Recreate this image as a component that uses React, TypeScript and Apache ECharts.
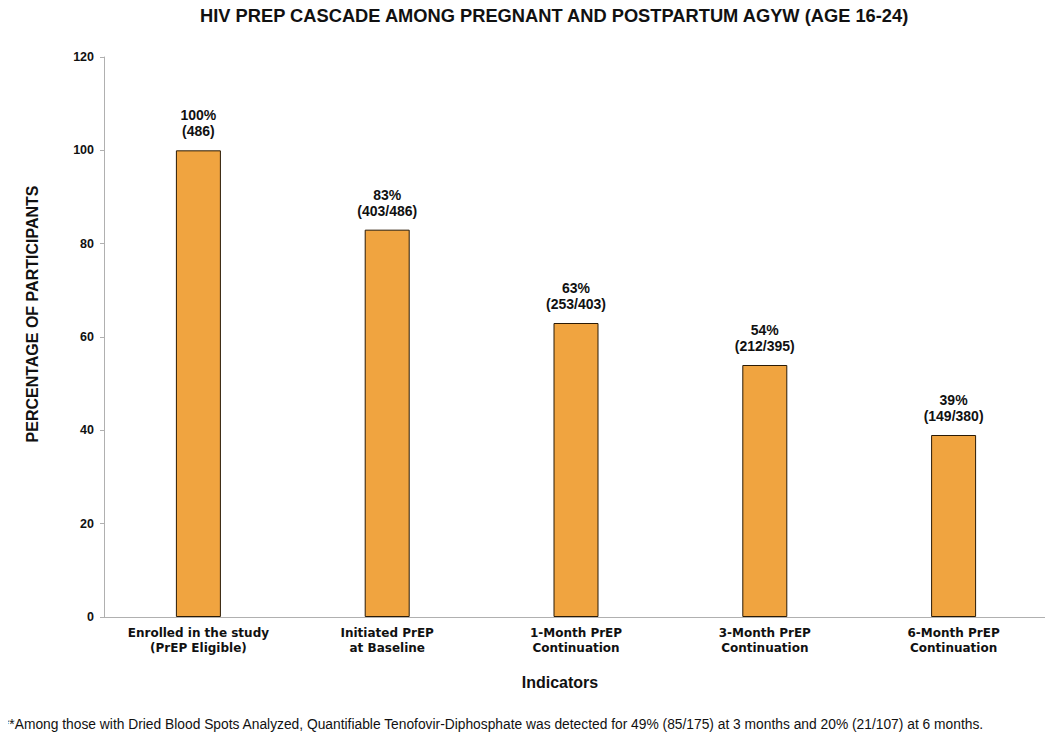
import React, { useEffect, useRef } from "react";
import * as echarts from "echarts";

const categories = [
  "Enrolled in the study\n(PrEP Eligible)",
  "Initiated PrEP\nat Baseline",
  "1-Month PrEP\nContinuation",
  "3-Month PrEP\nContinuation",
  "6-Month PrEP\nContinuation",
];
const percentages = [100, 83, 63, 54, 39];
const counts = ["486", "403/486", "253/403", "212/395", "149/380"];
const yTicks = { min: 0, max: 120, interval: 20 };

const titleText = "HIV PREP CASCADE AMONG PREGNANT AND POSTPARTUM AGYW (AGE 16-24)";
const footnote =
  "**Among those with Dried Blood Spots Analyzed, Quantifiable Tenofovir-Diphosphate was detected for 49% (85/175) at 3 months and 20% (21/107) at 6 months.";

const ARIAL = "'Liberation Sans', Arial, sans-serif";
const WIDE = "'DejaVu Sans', sans-serif";

export default function App() {
  const ref = useRef<HTMLDivElement>(null);
  useEffect(() => {
    if (!ref.current) return;
    const chart = echarts.init(ref.current, undefined, { renderer: "svg" });
    chart.setOption({
      animation: false,
      backgroundColor: "#ffffff",
      title: [
        {
          text: titleText,
          left: 200,
          top: 6,
          padding: 0,
          textStyle: { fontFamily: ARIAL, fontWeight: "bold", fontSize: 18.3, color: "#111" },
        },
        {
          text: footnote,
          left: 4,
          top: 717,
          padding: 0,
          textStyle: { fontFamily: ARIAL, fontWeight: "normal", fontSize: 13.8, color: "#111" },
        },
      ],
      grid: { left: 104, right: 5, top: 57, bottom: 124, containLabel: false },
      xAxis: {
        type: "category",
        data: categories,
        axisLine: { show: true, lineStyle: { color: "#b0b0b0", width: 1 } },
        axisTick: { show: false },
        axisLabel: {
          fontFamily: WIDE,
          fontWeight: "bold",
          fontSize: 12,
          lineHeight: 15,
          color: "#111",
          margin: 8,
          interval: 0,
        },
      },
      yAxis: {
        type: "value",
        min: yTicks.min,
        max: yTicks.max,
        interval: yTicks.interval,
        splitLine: { show: false },
        axisLine: { show: true, lineStyle: { color: "#b0b0b0", width: 1 } },
        axisTick: { show: true, length: 4, lineStyle: { color: "#b0b0b0" } },
        axisLabel: {
          fontFamily: ARIAL,
          fontWeight: "bold",
          fontSize: 12.5,
          color: "#111",
          margin: 10,
        },
      },
      graphic: [
        {
          type: "text",
          x: 32,
          y: 314,
          rotation: Math.PI / 2,
          style: {
            text: "PERCENTAGE OF PARTICIPANTS",
            fontFamily: ARIAL,
            fontWeight: "bold",
            fontSize: 16,
            fill: "#111",
            textAlign: "center",
            textVerticalAlign: "middle",
          },
        },
        {
          type: "text",
          x: 560,
          y: 682,
          style: {
            text: "Indicators",
            fontFamily: ARIAL,
            fontWeight: "bold",
            fontSize: 16,
            fill: "#111",
            textAlign: "center",
            textVerticalAlign: "middle",
          },
        },
      ],
      series: [
        {
          type: "bar",
          data: percentages,
          barWidth: 45,
          itemStyle: { color: "#F0A440", borderColor: "#2a1a05", borderWidth: 1 },
          label: {
            show: true,
            position: "top",
            distance: 11,
            fontFamily: ARIAL,
            fontWeight: "bold",
            fontSize: 14,
            lineHeight: 16,
            color: "#111",
            formatter: (p: any) => `${percentages[p.dataIndex]}%\n(${counts[p.dataIndex]})`,
          },
        },
      ],
    });
    return () => chart.dispose();
  }, []);
  return <div ref={ref} style={{ width: 1053, height: 741, margin: -8 }} />;
}
